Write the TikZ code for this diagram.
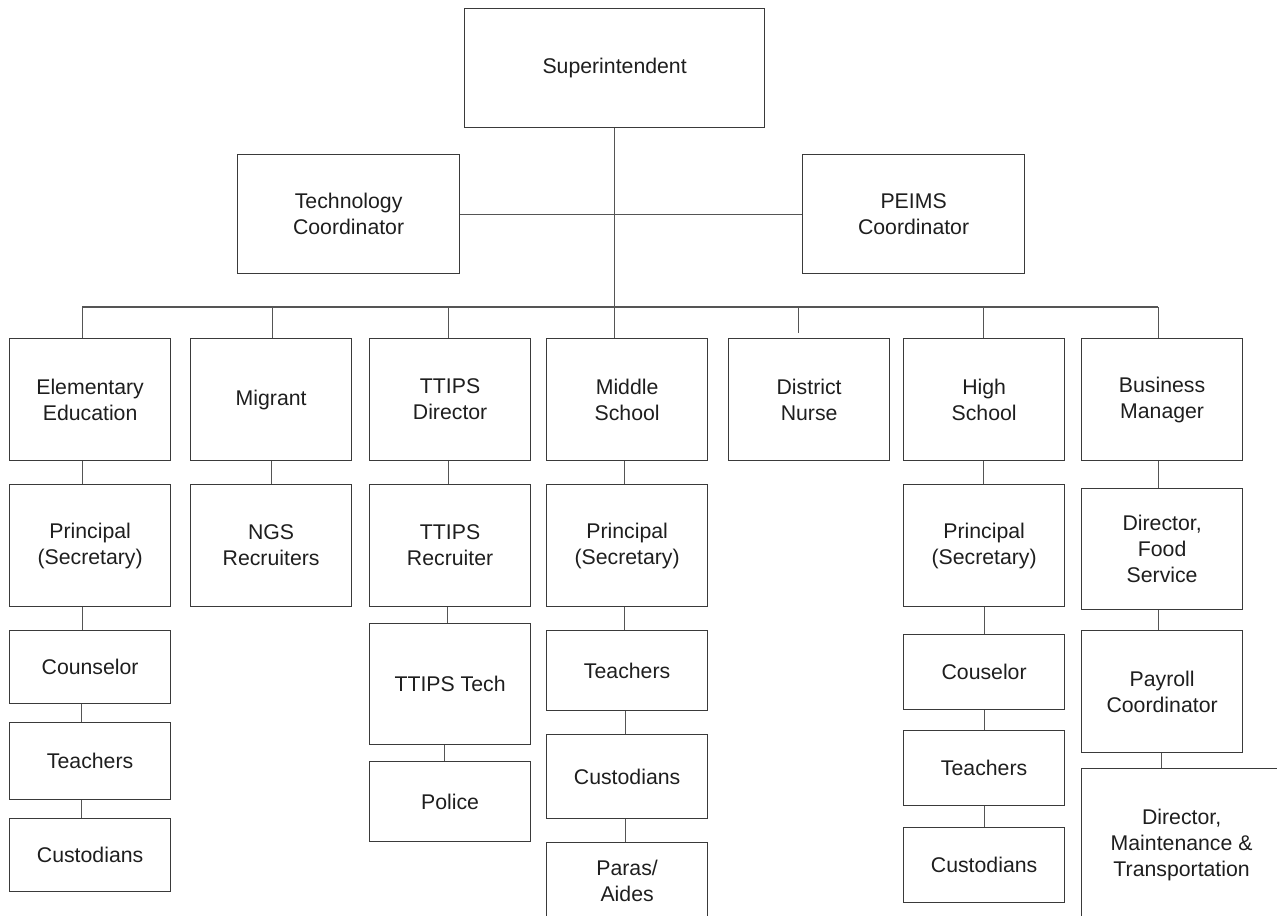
\documentclass[tikz,border=0pt]{standalone}
\usepackage{fontspec}
\setmainfont{Liberation Sans}
\usepackage{tikz}
\usetikzlibrary{positioning,calc}

\definecolor{boxline}{HTML}{3A3A3A}
\definecolor{linkline}{HTML}{555555}
\definecolor{labeltext}{HTML}{1E1E1E}

\begin{document}
\begin{tikzpicture}[x=0.2mm, y=-0.2mm,
    box/.style={draw=boxline, line width=0.7pt, anchor=north west, align=center,
                inner sep=0pt, text=labeltext, font=\fontsize{12.1}{14.8}\selectfont},
    link/.style={draw=linkline, line width=0.6pt}]
    \clip (0,0) rectangle (1277,916);

    %coordinates
    \coordinate (busL) at (82,307);
    \coordinate (busR) at (1158,307);

    %nodes
    \node[box, minimum width=60mm, minimum height=23.8mm] (super) at (464,8) {Superintendent};
    \node[box, minimum width=44.4mm, minimum height=23.8mm] (techco) at (237,154) {Technology\\Coordinator};
    \node[box, minimum width=44.4mm, minimum height=23.8mm] (peims) at (802,154) {PEIMS\\Coordinator};

    \node[box, minimum width=32.2mm, minimum height=24.4mm] (elem) at (9,338) {Elementary\\Education};
    \node[box, minimum width=32.2mm, minimum height=24.4mm] (migrant) at (190,338) {Migrant};
    \node[box, minimum width=32.2mm, minimum height=24.4mm] (ttips) at (369,338) {TTIPS\\Director};
    \node[box, minimum width=32.2mm, minimum height=24.4mm] (middle) at (546,338) {Middle\\School};
    \node[box, minimum width=32.2mm, minimum height=24.4mm] (nurse) at (728,338) {District\\Nurse};
    \node[box, minimum width=32.2mm, minimum height=24.4mm] (high) at (903,338) {High\\School};
    \node[box, minimum width=32.2mm, minimum height=24.4mm] (business) at (1081,338) {Business\\Manager};

    \node[box, minimum width=32.2mm, minimum height=24.4mm] (elemprin) at (9,484) {Principal\\(Secretary)};
    \node[box, minimum width=32.2mm, minimum height=14.6mm] (counsel) at (9,630) {Counselor};
    \node[box, minimum width=32.2mm, minimum height=15.4mm] (teach1) at (9,722) {Teachers};
    \node[box, minimum width=32.2mm, minimum height=14.6mm] (cust1) at (9,818) {Custodians};

    \node[box, minimum width=32.2mm, minimum height=24.4mm] (ngs) at (190,484) {NGS\\Recruiters};

    \node[box, minimum width=32.2mm, minimum height=24.4mm] (ttipsrec) at (369,484) {TTIPS\\Recruiter};
    \node[box, minimum width=32.2mm, minimum height=24.2mm] (ttipstech) at (369,623) {TTIPS Tech};
    \node[box, minimum width=32.2mm, minimum height=16mm] (police) at (369,761) {Police};

    \node[box, minimum width=32.2mm, minimum height=24.4mm] (midprin) at (546,484) {Principal\\(Secretary)};
    \node[box, minimum width=32.2mm, minimum height=16mm] (teach2) at (546,630) {Teachers};
    \node[box, minimum width=32.2mm, minimum height=16.8mm] (cust2) at (546,734) {Custodians};
    \node[box, minimum width=32.2mm, minimum height=15.2mm] (paras) at (546,842) {Paras/\\Aides};

    \node[box, minimum width=32.2mm, minimum height=24.4mm] (highprin) at (903,484) {Principal\\(Secretary)};
    \node[box, minimum width=32.2mm, minimum height=15mm] (cousel) at (903,634) {Couselor};
    \node[box, minimum width=32.2mm, minimum height=15mm] (teach3) at (903,730) {Teachers};
    \node[box, minimum width=32.2mm, minimum height=15mm] (cust3) at (903,827) {Custodians};

    \node[box, minimum width=32.2mm, minimum height=24.2mm] (food) at (1081,488) {Director,\\Food\\Service};
    \node[box, minimum width=32.2mm, minimum height=24.4mm] (payroll) at (1081,630) {Payroll\\Coordinator};
    \node[box, minimum width=40mm, minimum height=30.4mm] (maint) at (1081,768) {Director,\\Maintenance \&\\Transportation};

    %edges
    \draw[link] (super.south) -- (super.south |- middle.north);
    \draw[link] (techco.east) -- (peims.west);
    \draw[link] (busL) -- (busR);

    \foreach \n/\dx in {elem/-8, migrant/1, ttips/-2, high/-1, business/-4}
        \draw[link] ($(\n.north |- busL)+(\dx,0)$) -- ($(\n.north)+(\dx,0)$);
    \draw[link] ($(nurse.north |- busL)+(-11,0)$) -- ($(nurse.north)+(-11,-5)$);

    \foreach \a/\b/\dx in {elem/elemprin/-8, elemprin/counsel/-8, counsel/teach1/-9, teach1/cust1/-9,
                           migrant/ngs/0,
                           ttips/ttipsrec/-2, ttipsrec/ttipstech/-3, ttipstech/police/-6,
                           middle/midprin/-3, midprin/teach2/-3, teach2/cust2/-2, cust2/paras/-2,
                           high/highprin/-1, highprin/cousel/0, cousel/teach3/0, teach3/cust3/0,
                           business/food/-4, food/payroll/-4, payroll/maint/-1}
        \draw[link] (\a.south) ++(\dx,0) coordinate (top) -- (top |- \b.north);
\end{tikzpicture}
\end{document}
